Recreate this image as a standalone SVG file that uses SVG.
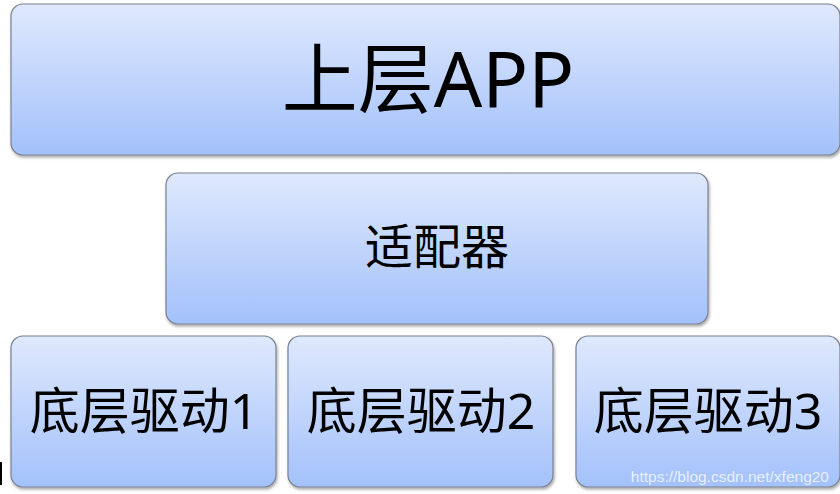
<svg xmlns="http://www.w3.org/2000/svg" width="840" height="494" viewBox="0 0 840 494">
<defs>
<linearGradient id="g" x1="0" y1="0" x2="0" y2="1">
<stop offset="0" stop-color="#dfe9fd"/>
<stop offset="1" stop-color="#a3c1fb"/>
</linearGradient>
<filter id="sh" x="-5%" y="-5%" width="110%" height="115%">
<feDropShadow dx="1" dy="2" stdDeviation="1.5" flood-color="#000" flood-opacity="0.35"/>
</filter>
</defs>
<style>
.box{fill:url(#g);stroke:#7b8090;stroke-width:1.2;filter:url(#sh)}
.t{font-family:"Noto Sans","Noto Sans CJK SC",sans-serif;fill:#000;text-anchor:middle}
</style>
<rect width="840" height="494" fill="#fff"/>
<g id="connectors"/>
<g id="app">
<rect class="box" x="11" y="4" width="829" height="151" rx="12"/>
<text class="t" x="428" y="107" font-size="76">上层APP</text>
</g>
<g id="adapter">
<rect class="box" x="166" y="173" width="542" height="151" rx="12"/>
<text class="t" x="437" y="264" font-size="48">适配器</text>
</g>
<g id="driver1">
<rect class="box" x="11" y="336" width="265" height="151" rx="12"/>
<text class="t" x="144" y="429" font-size="50">底层驱动1</text>
</g>
<g id="driver2">
<rect class="box" x="288" y="336" width="265" height="151" rx="12"/>
<text class="t" x="421" y="429" font-size="50">底层驱动2</text>
</g>
<g id="driver3">
<rect class="box" x="576" y="336" width="264" height="151" rx="12"/>
<text class="t" x="708" y="429" font-size="50">底层驱动3</text>
</g>
<rect x="0" y="462" width="2" height="23" fill="#000"/>
<text x="829" y="482" font-family="Liberation Sans, Arial, sans-serif" font-size="15.5" fill="#ffffff" fill-opacity="0.75" text-anchor="end">https://blog.csdn.net/xfeng20</text>
</svg>
